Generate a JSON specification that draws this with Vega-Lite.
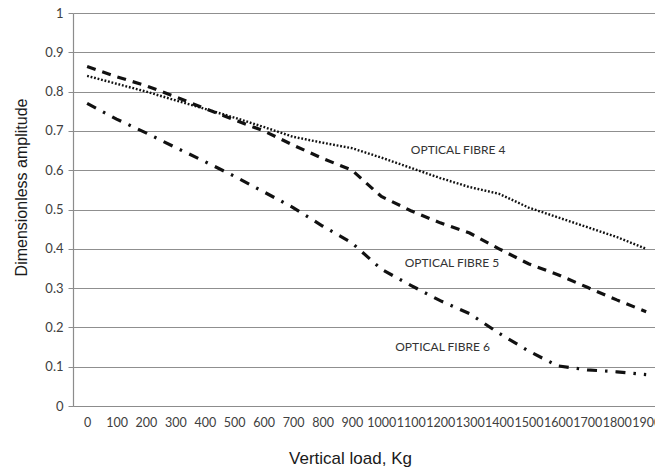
{
  "$schema": "https://vega.github.io/schema/vega-lite/v6.json",
  "width": 582,
  "height": 393,
  "autosize": {"type": "none"},
  "padding": {"left": 73, "top": 13, "right": 0, "bottom": 64},
  "background": "white",
  "config": {"view": {"stroke": null}},
  "datasets": {
    "curves": [
      {"load": 0, "amp": 0.84, "fibre": "4"},
      {"load": 100, "amp": 0.82, "fibre": "4"},
      {"load": 200, "amp": 0.8, "fibre": "4"},
      {"load": 300, "amp": 0.778, "fibre": "4"},
      {"load": 400, "amp": 0.756, "fibre": "4"},
      {"load": 500, "amp": 0.734, "fibre": "4"},
      {"load": 600, "amp": 0.71, "fibre": "4"},
      {"load": 700, "amp": 0.685, "fibre": "4"},
      {"load": 800, "amp": 0.67, "fibre": "4"},
      {"load": 900, "amp": 0.656, "fibre": "4"},
      {"load": 1000, "amp": 0.632, "fibre": "4"},
      {"load": 1100, "amp": 0.606, "fibre": "4"},
      {"load": 1200, "amp": 0.58, "fibre": "4"},
      {"load": 1300, "amp": 0.557, "fibre": "4"},
      {"load": 1400, "amp": 0.54, "fibre": "4"},
      {"load": 1500, "amp": 0.505, "fibre": "4"},
      {"load": 1600, "amp": 0.48, "fibre": "4"},
      {"load": 1700, "amp": 0.455, "fibre": "4"},
      {"load": 1800, "amp": 0.43, "fibre": "4"},
      {"load": 1900, "amp": 0.4, "fibre": "4"},
      {"load": 0, "amp": 0.864, "fibre": "5"},
      {"load": 100, "amp": 0.838, "fibre": "5"},
      {"load": 200, "amp": 0.815, "fibre": "5"},
      {"load": 300, "amp": 0.787, "fibre": "5"},
      {"load": 400, "amp": 0.757, "fibre": "5"},
      {"load": 500, "amp": 0.728, "fibre": "5"},
      {"load": 600, "amp": 0.7, "fibre": "5"},
      {"load": 700, "amp": 0.664, "fibre": "5"},
      {"load": 800, "amp": 0.63, "fibre": "5"},
      {"load": 900, "amp": 0.6, "fibre": "5"},
      {"load": 1000, "amp": 0.533, "fibre": "5"},
      {"load": 1100, "amp": 0.497, "fibre": "5"},
      {"load": 1200, "amp": 0.466, "fibre": "5"},
      {"load": 1300, "amp": 0.44, "fibre": "5"},
      {"load": 1400, "amp": 0.4, "fibre": "5"},
      {"load": 1500, "amp": 0.362, "fibre": "5"},
      {"load": 1600, "amp": 0.334, "fibre": "5"},
      {"load": 1700, "amp": 0.302, "fibre": "5"},
      {"load": 1800, "amp": 0.27, "fibre": "5"},
      {"load": 1900, "amp": 0.24, "fibre": "5"},
      {"load": 0, "amp": 0.77, "fibre": "6"},
      {"load": 100, "amp": 0.73, "fibre": "6"},
      {"load": 200, "amp": 0.695, "fibre": "6"},
      {"load": 300, "amp": 0.658, "fibre": "6"},
      {"load": 400, "amp": 0.622, "fibre": "6"},
      {"load": 500, "amp": 0.585, "fibre": "6"},
      {"load": 600, "amp": 0.545, "fibre": "6"},
      {"load": 700, "amp": 0.505, "fibre": "6"},
      {"load": 800, "amp": 0.458, "fibre": "6"},
      {"load": 900, "amp": 0.415, "fibre": "6"},
      {"load": 1000, "amp": 0.348, "fibre": "6"},
      {"load": 1100, "amp": 0.307, "fibre": "6"},
      {"load": 1200, "amp": 0.268, "fibre": "6"},
      {"load": 1300, "amp": 0.235, "fibre": "6"},
      {"load": 1400, "amp": 0.185, "fibre": "6"},
      {"load": 1500, "amp": 0.14, "fibre": "6"},
      {"load": 1600, "amp": 0.102, "fibre": "6"},
      {"load": 1700, "amp": 0.092, "fibre": "6"},
      {"load": 1800, "amp": 0.087, "fibre": "6"},
      {"load": 1900, "amp": 0.08, "fibre": "6"}
    ],
    "labels": [
      {"load": 1261, "amp": 0.651, "text": "OPTICAL FIBRE 4"},
      {"load": 1240, "amp": 0.363, "text": "OPTICAL FIBRE 5"},
      {"load": 1208, "amp": 0.151, "text": "OPTICAL FIBRE 6"}
    ]
  },
  "encoding": {
    "x": {
      "field": "load",
      "type": "quantitative",
      "scale": {"domain": [-48, 1930], "nice": false, "zero": false},
      "axis": {
        "title": "Vertical load, Kg",
        "values": [0, 100, 200, 300, 400, 500, 600, 700, 800, 900, 1000, 1100, 1200, 1300, 1400, 1500, 1600, 1700, 1800, 1900],
        "format": "d",
        "grid": false,
        "ticks": false,
        "domainColor": "#8c8c8c",
        "domainWidth": 1.2,
        "labelFont": "Lato",
        "labelFontSize": 12.5,
        "labelColor": "#404040",
        "labelPadding": 10,
        "labelOverlap": false,
        "labelFlush": false,
        "titleFont": "Liberation Sans",
        "titleFontSize": 17,
        "titleFontWeight": "normal",
        "titleColor": "#1a1a1a",
        "titleX": 277,
        "titleY": 57,
        "titleAlign": "center",
        "titleBaseline": "alphabetic"
      }
    },
    "y": {
      "field": "amp",
      "type": "quantitative",
      "scale": {"domain": [0, 1], "nice": false},
      "axis": {
        "title": "Dimensionless amplitude",
        "values": [0, 0.1, 0.2, 0.3, 0.4, 0.5, 0.6, 0.7, 0.8, 0.9, 1],
        "format": ".1~f",
        "grid": true,
        "gridColor": "#8f8f8f",
        "gridWidth": 1.2,
        "domainColor": "#8c8c8c",
        "domainWidth": 1.2,
        "tickColor": "#8c8c8c",
        "tickSize": 5,
        "labelFont": "Lato",
        "labelFontSize": 13,
        "labelColor": "#404040",
        "labelPadding": 5,
        "titleFont": "Liberation Sans",
        "titleFontSize": 16,
        "titleFontWeight": "normal",
        "titleColor": "#1a1a1a",
        "titleX": -52,
        "titleY": 174,
        "titleAngle": -90,
        "titleAlign": "center",
        "titleBaseline": "middle"
      }
    }
  },
  "layer": [
    {
      "data": {"name": "curves"},
      "transform": [{"filter": "datum.fibre === '4'"}],
      "mark": {"type": "line", "color": "#111", "strokeWidth": 2.4, "strokeDash": [1.8, 1.8]}
    },
    {
      "data": {"name": "curves"},
      "transform": [{"filter": "datum.fibre === '5'"}],
      "mark": {"type": "line", "color": "#111", "strokeWidth": 3.2, "strokeDash": [9, 7]}
    },
    {
      "data": {"name": "curves"},
      "transform": [{"filter": "datum.fibre === '6'"}],
      "mark": {"type": "line", "color": "#111", "strokeWidth": 3.2, "strokeDash": [10, 8, 2.5, 8]}
    },
    {
      "data": {"name": "labels"},
      "mark": {"type": "text", "font": "Lato", "fontSize": 12, "color": "#333", "align": "center", "baseline": "middle"},
      "encoding": {"text": {"field": "text", "type": "nominal"}}
    }
  ]
}
